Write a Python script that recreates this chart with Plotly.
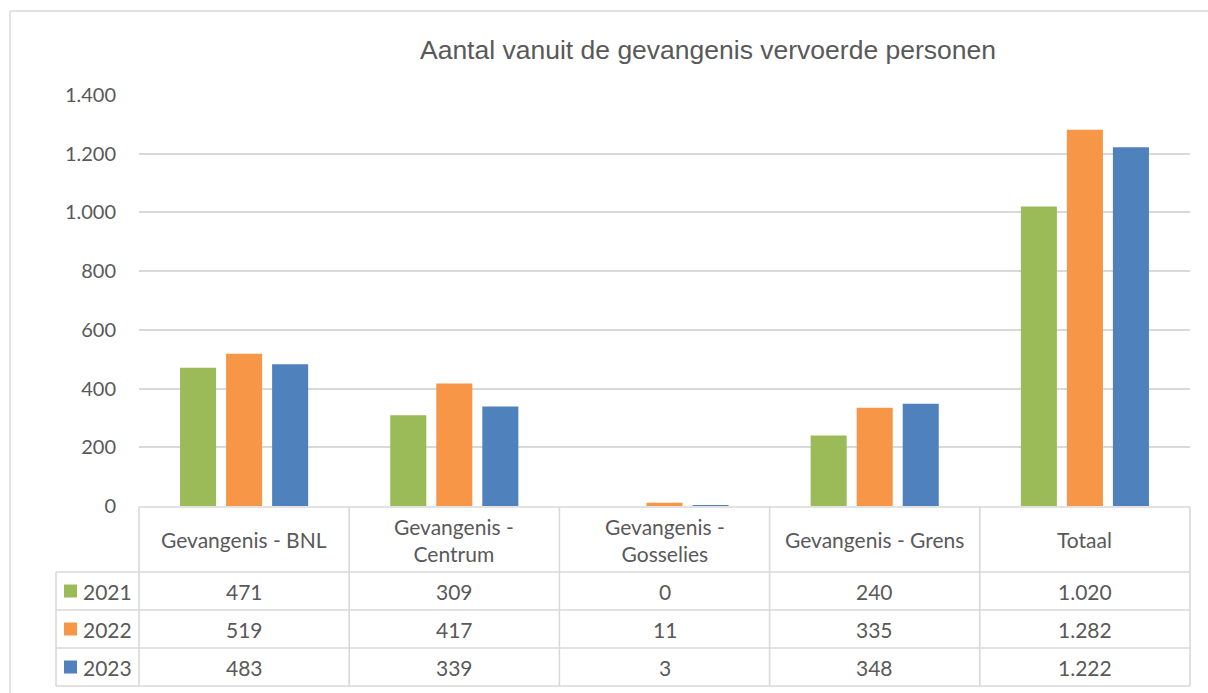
import plotly.graph_objects as go

categories = ["Gevangenis - BNL", "Gevangenis - Centrum", "Gevangenis - Gosselies", "Gevangenis - Grens", "Totaal"]
header_labels = ["Gevangenis - BNL", "Gevangenis -<br>Centrum", "Gevangenis -<br>Gosselies", "Gevangenis - Grens", "Totaal"]
years = ["2021", "2022", "2023"]
values_2021 = [471, 309, 0, 240, 1020]
values_2022 = [519, 417, 11, 335, 1282]
values_2023 = [483, 339, 3, 348, 1222]
colors = ["#9BBB59", "#F79646", "#4F81BD"]
tick_vals = [0, 200, 400, 600, 800, 1000, 1200, 1400]
title_text = "Aantal vanuit de gevangenis vervoerde personen"

series = [values_2021, values_2022, values_2023]

W, H = 1208, 693
ML, MR, MT, MB = 139, 18, 95, 187
PW = W - ML - MR
PH = H - MT - MB


def px(x):
    return (x - ML) / PW


def py(y):
    return (H - MB - y) / PH


def fmt(v):
    return f"{v:,}".replace(",", ".")


fig = go.Figure()
for name, vals, col in zip(years, series, colors):
    fig.add_trace(go.Bar(name=name, x=categories, y=vals, marker_color=col,
                         marker_line_width=0, showlegend=False))

grid = "#D9D9D9"
font_main = "Lato, 'Open Sans', sans-serif"
txt_col = "#595959"
tsize = 21

shapes = []
annotations = []

# outer chart border (partial, cropped)
shapes.append(dict(type="line", xref="paper", yref="paper", x0=px(10), x1=px(1210), y0=py(11), y1=py(11),
                   line=dict(color=grid, width=1.5)))
shapes.append(dict(type="line", xref="paper", yref="paper", x0=px(10), x1=px(10), y0=py(11), y1=py(700),
                   line=dict(color=grid, width=1.5)))

# table geometry
n = len(categories)
col_x = [ML + i * PW / n for i in range(n + 1)]
row_y = [507, 572, 610, 648, 686]
left_x = 56
lw = 1.6

# horizontal lines
shapes.append(dict(type="line", xref="paper", yref="paper", x0=px(col_x[0]), x1=px(col_x[-1]),
                   y0=py(row_y[0]), y1=py(row_y[0]), line=dict(color=grid, width=lw)))
for yv in row_y[1:]:
    shapes.append(dict(type="line", xref="paper", yref="paper", x0=px(left_x), x1=px(col_x[-1]),
                       y0=py(yv), y1=py(yv), line=dict(color=grid, width=lw)))
# vertical lines
for xv in col_x:
    shapes.append(dict(type="line", xref="paper", yref="paper", x0=px(xv), x1=px(xv),
                       y0=py(row_y[0]), y1=py(row_y[-1]), line=dict(color=grid, width=lw)))
shapes.append(dict(type="line", xref="paper", yref="paper", x0=px(left_x), x1=px(left_x),
                   y0=py(row_y[1]), y1=py(row_y[-1]), line=dict(color=grid, width=lw)))

# header texts
for cat, lab in zip(categories, header_labels):
    annotations.append(dict(x=cat, xref="x", yref="paper", y=py((row_y[0] + row_y[1]) / 2),
                            text=lab, showarrow=False, xanchor="center", yanchor="middle",
                            font=dict(family=font_main, size=tsize, color=txt_col)))

# rows
for r, (name, vals, col) in enumerate(zip(years, series, colors)):
    yc = (row_y[r + 1] + row_y[r + 2]) / 2
    shapes.append(dict(type="rect", xref="paper", yref="paper", x0=px(64), x1=px(77),
                       y0=py(yc - 6.5), y1=py(yc + 6.5), fillcolor=col, line=dict(width=0)))
    annotations.append(dict(x=px(81), xref="paper", yref="paper", y=py(yc), text=name, showarrow=False,
                            xanchor="left", yanchor="middle",
                            font=dict(family=font_main, size=tsize, color=txt_col)))
    for cat, v in zip(categories, vals):
        annotations.append(dict(x=cat, xref="x", yref="paper", y=py(yc), text=fmt(v), showarrow=False,
                                xanchor="center", yanchor="middle",
                                font=dict(family=font_main, size=tsize, color=txt_col)))

fig.update_layout(
    width=W, height=H,
    margin=dict(l=ML, r=MR, t=MT, b=MB, autoexpand=False),
    paper_bgcolor="white", plot_bgcolor="white",
    separators=",.",
    barmode="group", bargap=0.343, bargroupgap=0.217,
    title=dict(text=title_text, xref="container", x=708 / W, xanchor="center",
               yref="container", y=1 - 50 / H, yanchor="middle",
               font=dict(family="'Liberation Sans', Arial, sans-serif", size=26.5, color=txt_col)),
    xaxis=dict(showticklabels=False, showgrid=False, zeroline=False, showline=False,
               range=[-0.5, n - 0.5], fixedrange=True),
    yaxis=dict(range=[0, 1400], tickvals=tick_vals, tickformat=",d", showgrid=True, gridcolor=grid,
               gridwidth=1.5, zeroline=False, showline=False, ticks="", ticklabelstandoff=22,
               tickfont=dict(family=font_main, size=20, color=txt_col)),
    shapes=shapes, annotations=annotations,
)

fig.write_html("out.html", config={"displayModeBar": False},
               post_script="document.body.style.margin='0';document.body.style.overflow='hidden';")
